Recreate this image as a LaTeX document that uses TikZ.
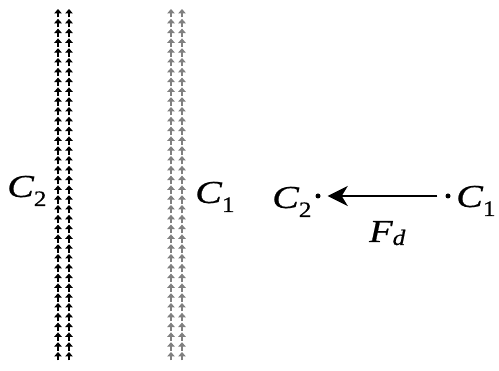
\documentclass[tikz,border=0pt]{standalone}
\usepackage{fontspec}
\setmainfont{Liberation Serif}
\newfontfamily\lblfont{Liberation Serif Italic}[FakeBold=0.6]
\newfontfamily\subfont{Liberation Serif}[FakeBold=0.5]
\usetikzlibrary{arrows.meta}
\newcommand{\symb}[2]{\scalebox{1.25}[1]{\fontsize{32}{36}\lblfont #1}\raisebox{-9pt}{\scalebox{1.15}[1]{\fontsize{22}{24}\subfont #2}}}
\begin{document}
\begin{tikzpicture}[x=1pt,y=-1pt,
  lbl/.style={inner sep=0pt,anchor=base west},
  tiny/.style={line width=1.5pt,-{Triangle[length=4.5pt,width=7.5pt]}},
  dotnode/.style={circle,fill=black,inner sep=0pt,minimum size=5pt},
  force/.style={line width=2.8pt,-{Stealth[length=20pt,width=20pt,inset=6pt]}}]
\useasboundingbox (0,0) rectangle (499,371);
% columns of small arrows
\foreach \i in {0,...,35}{
  \pgfmathsetmacro\yy{9+9.8*\i}
  \draw[tiny,black] (58,\yy+8.5) -- (58,\yy);
  \draw[tiny,black] (69,\yy+8.5) -- (69,\yy);
  \draw[tiny,black!50] (171,\yy+8.5) -- (171,\yy);
  \draw[tiny,black!50] (182,\yy+8.5) -- (182,\yy);
}
% left labels
\node[lbl] (c2left) at (7,197) {\symb{C}{2}};
\node[lbl] (c1left) at (195,203) {\symb{C}{1}};
% right: force between two charges
\node[lbl] (c2right) at (272,208) {\symb{C}{2}};
\node[dotnode] (d2) at (318,196) {};
\node[dotnode] (d1) at (448,196) {};
\node[lbl] (c1right) at (456,207) {\symb{C}{1}};
\draw[force,shorten >=7pt,shorten <=8pt] (d1) -- (d2);
\node[lbl] (fd) at (369,242) {\scalebox{1.2}[1]{\fontsize{32}{36}\lblfont F}\raisebox{-3pt}{\scalebox{1.15}[1]{\fontsize{22}{24}\lblfont d}}};
\end{tikzpicture}
\end{document}
